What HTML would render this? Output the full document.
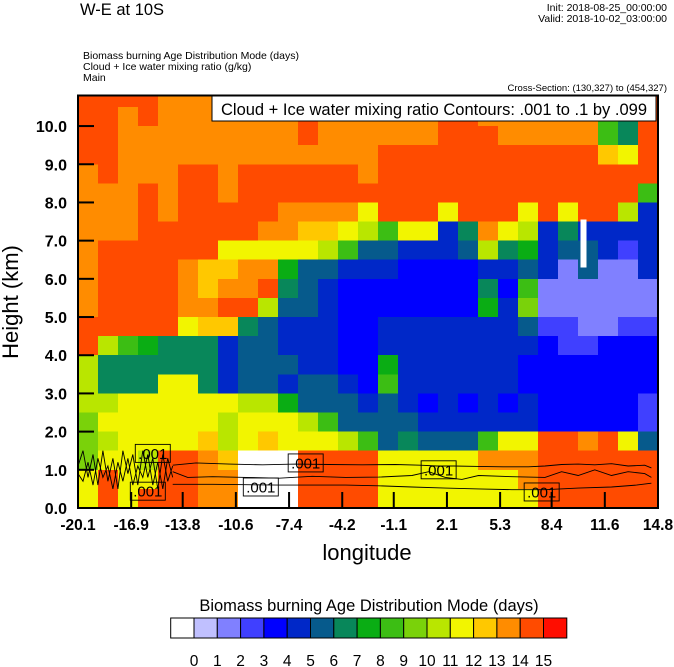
<!DOCTYPE html>
<html><head><meta charset="utf-8">
<style>
html,body{margin:0;padding:0;background:#fff;}
svg{display:block;font-family:"Liberation Sans",sans-serif;}
</style></head>
<body>
<svg id="chart" width="674" height="667" viewBox="0 0 674 667">
  <g id="hdr">
    <text x="80" y="15" font-size="16.5">W-E at 10S</text>
    <text x="667" y="11" font-size="10.5" text-anchor="end">Init: 2018-08-25_00:00:00</text>
    <text x="667" y="22" font-size="10.5" text-anchor="end">Valid: 2018-10-02_03:00:00</text>
    <text x="83" y="59" font-size="10.5">Biomass burning Age Distribution Mode    (days)</text>
    <text x="83" y="70" font-size="10.5">Cloud + Ice water mixing ratio    (g/kg)</text>
    <text x="83" y="81" font-size="10.5">Main</text>
    <text x="667" y="91" font-size="9.5" text-anchor="end">Cross-Section: (130,327) to (454,327)</text>
  </g>
  <g id="cells" shape-rendering="crispEdges"></g>
  <g id="contours" fill="none" stroke="#000" stroke-width="0.9"></g>
  <g id="clabels"></g>
  <g id="axes"></g>
  <g>
    <rect x="212" y="96" width="444" height="25" fill="#fff" stroke="#000" stroke-width="1"></rect>
    <text x="434" y="115" font-size="16.5" text-anchor="middle">Cloud + Ice water mixing ratio Contours: .001 to .1 by .099</text>
  </g>
  <text x="367" y="560" font-size="22" text-anchor="middle">longitude</text>
  <text transform="translate(18,302) rotate(-90)" font-size="22" text-anchor="middle">Height (km)</text>
  <text x="369" y="611" font-size="16.5" text-anchor="middle">Biomass burning Age Distribution Mode  (days)</text>
  <g id="cbar"></g>
</svg>
<script>
// ---- data ----
const lonMin = -20.1, lonMax = 14.8, hMin = 0, hMax = 10.8;
const xTickLabels = ["-20.1","-16.9","-13.8","-10.6","-7.4","-4.2","-1.1","2.1","5.3","8.4","11.6","14.8"];
const yTickValues = [0,1,2,3,4,5,6,7,8,9,10];
const levelLabels = ["0","1","2","3","4","5","6","7","8","9","10","11","12","13","14","15"];
const levelColors = ["#ffffff","#c0c0ff","#8080ff","#4040ff","#0000ff","#0028c8","#065a8c","#08875a","#0aad14","#3cbe14","#7ad20a","#b9e600","#f2f500","#ffc800","#ff8c00","#ff4b00","#ff0d00"];
// field rows: bin index (base-17 digit) per column; top row first; each row spans 0.5 km
const fieldRowHeights = [10.5,10,9.5,9,8.5,8,7.5,7,6.5,6,5.5,5,4.5,4,3.5,3,2.5,2,1.5,1,0.5,0];
const fieldRows = [
"ffffeeeeeeeeeeeeeeffeeeeee97f",
"ffefeeeeeeefeeeeeeffeeeeee97f",
"ffeeeeeeeeefeeeeeefffeeeee97f",
"ffeeeeeeeeeeeeefffffffffffdcf",
"efeeeffeffffffeffffffffffffff",
"eeefeffeffffffffffffffffffff9",
"eeefefffffeeeecfffcfffcfcffb5",
"eeeffffffeeddcb9cc57ecb575555",
"effffffcccccb9665556b78566535",
"effffeddee8665554444556526225",
"effffedeef7654444444749222222",
"effffeeffb665444444485a222222",
"fffffcdd765554455555556332233",
"fb987775665554455555555433444",
"b7777775666554485555554444444",
"b777cc75665665495555554444444",
"bbccccccbb8666565454545444443",
"accccccbcccb96666555555444443",
"abccccdbcdcccb9676669ccffefc6",
"accbffed000ffffccccceeeffffff",
"cfccffee000ffffccccccceffffff",
"cfcfffee000ffffccccccccffffff"
];
// small patch: [lon1, lon2, h1, h2, bin]
const patchLon1 = [10.15];
const patchLon2 = [10.5];
const patchH1 = [6.3];
const patchH2 = [7.55];
const patchBin = [0];
// contour lines (.001 g/kg)
const cUpperLon = [-14.4,-13,-11,-9,-7,-5,-3,-1,0.5,1.5,2.5,4,5.5,7,8,9,10,11,12,13,14,14.4];
const cUpperH   = [1.12,1.18,1.15,1.13,1.15,1.14,1.13,1.14,1.12,1.10,1.10,1.09,1.08,1.08,1.10,1.14,1.15,1.13,1.16,1.1,1.12,1.05];
const cMidLon = [-14.4,-13.5,-12,-10,-8,-6,-4,-2,0,1,2,3,4,6,8,9,10,11,12,13,14,14.4];
const cMidH   = [0.95,0.80,0.82,0.80,0.78,0.83,0.80,0.81,0.85,0.95,0.80,0.75,0.85,0.82,0.80,0.95,0.85,1.00,0.85,0.95,0.90,0.80];
const cLowLon = [-14.4,-12,-10,-8,-6,-4,-2,0,2,4,6,8,10,12,13.5,14.4];
const cLowH   = [0.62,0.62,0.61,0.60,0.60,0.60,0.58,0.55,0.52,0.50,0.48,0.48,0.52,0.55,0.60,0.65];
const cLeftLon = [-20.1,-19.8,-19.5,-19.2,-18.9,-18.6,-18.3,-18,-17.7,-17.4,-17.1,-16.8,-16.5,-16.2,-15.9,-15.6,-15.3,-15,-14.7,-14.4];
const cLeftH   = [1.1,1.5,0.8,1.4,0.6,1.5,0.7,1.3,0.5,1.5,0.9,1.4,0.6,1.5,0.8,1.3,0.5,1.4,0.7,1.1];
const cLeft2H  = [0.9,0.7,1.2,0.6,1.3,0.8,1.1,0.5,1.2,0.7,1.3,0.6,1.1,0.8,1.4,0.6,1.2,0.5,1.3,0.8];
const cLabelLon = [-15.6,-15.9,-6.4,-9.1,1.6,7.8];
const cLabelH   = [1.43,0.44,1.18,0.55,1.0,0.42];
const cLabelText = [".001",".001",".001",".001",".001",".001"];

// ---- scales ----
const X0 = 78, X1 = 658, Y0 = 508, Y1 = 95.5;
function xs(lon){ return X0 + (lon - lonMin) / (lonMax - lonMin) * (X1 - X0); }
function ys(h){ return Y0 - (h - hMin) / (hMax - hMin) * (Y0 - Y1); }
const NS = "http://www.w3.org/2000/svg";
function mk(tag, parent){ const e = document.createElementNS(NS, tag); parent.appendChild(e); return e; }

// ---- cells ----
const cellsG = document.getElementById("cells");
const nCols = fieldRows[0].length;
const dLon = (lonMax - lonMin) / nCols;
fieldRows.forEach((row, r) => {
  const h0 = fieldRowHeights[r];
  const h1 = Math.min(h0 + 0.5, hMax);
  for (let c = 0; c < nCols; c++) {
    const v = parseInt(row[c], 17);
    const rc = mk("rect", cellsG);
    
    
    const xa = xs(lonMin + c * dLon), xb = xs(lonMin + (c + 1) * dLon);
    rc.setAttribute("x", xa); rc.setAttribute("y", ys(h1));
    rc.setAttribute("width", xb - xa + 0.5); rc.setAttribute("height", ys(h0) - ys(h1) + 0.5);
    rc.setAttribute("fill", levelColors[v]);
  }
});
patchBin.forEach((b, i) => {
  const rc = mk("rect", cellsG);
  
  
  rc.setAttribute("x", xs(patchLon1[i])); rc.setAttribute("y", ys(patchH2[i]));
  rc.setAttribute("width", xs(patchLon2[i]) - xs(patchLon1[i])); rc.setAttribute("height", ys(patchH1[i]) - ys(patchH2[i]));
  rc.setAttribute("fill", levelColors[b]);
});

// ---- contours ----
const cg = document.getElementById("contours");
function line(lons, hs, name){
  const p = mk("polyline", cg);
  
  
  p.setAttribute("points", lons.map((l, i) => xs(l).toFixed(1) + "," + ys(hs[i]).toFixed(1)).join(" "));
}
line(cUpperLon, cUpperH, 'contour-upper');
line(cMidLon, cMidH, 'contour-middle');
line(cLowLon, cLowH, 'contour-lower');
line(cLeftLon, cLeftH, 'contour-left-squiggle');
line(cLeftLon, cLeft2H, 'contour-left-squiggle-2');
const clg = document.getElementById("clabels");
cLabelText.forEach((t, i) => {
  const cx = xs(cLabelLon[i]), cy = ys(cLabelH[i]);
  const r = mk("rect", clg);
  
  
  r.setAttribute("x", cx - 17.5); r.setAttribute("y", cy - 9); r.setAttribute("width", 35); r.setAttribute("height", 18);
  r.setAttribute("fill", "none"); r.setAttribute("stroke", "#000"); r.setAttribute("stroke-width", "0.9");
  const tx = mk("text", clg);
  
  
  tx.setAttribute("x", cx); tx.setAttribute("y", cy + 5.5); tx.setAttribute("font-size", "15");
  tx.setAttribute("text-anchor", "middle"); tx.textContent = t;
});

// ---- axes ----
const ag = document.getElementById("axes");
const frame = mk("rect", ag);


frame.setAttribute("x", X0); frame.setAttribute("y", Y1); frame.setAttribute("width", X1 - X0); frame.setAttribute("height", Y0 - Y1);
frame.setAttribute("fill", "none"); frame.setAttribute("stroke", "#000"); frame.setAttribute("stroke-width", "2");
yTickValues.forEach(v => {
  const y = ys(v);
  const t = mk("line", ag);
  
  
  t.setAttribute("x1", X0); t.setAttribute("x2", X0 + 16); t.setAttribute("y1", y); t.setAttribute("y2", y);
  t.setAttribute("stroke", "#000"); t.setAttribute("stroke-width", "2");
  const l = mk("text", ag);
  
  
  l.setAttribute("x", 67); l.setAttribute("y", y + 6); l.setAttribute("font-size", "16"); l.setAttribute("font-weight", "bold");
  l.setAttribute("text-anchor", "end"); l.textContent = v.toFixed(1);
});
xTickLabels.forEach((s, i) => {
  const lon = parseFloat(s);
  const x = xs(lon);
  const t = mk("line", ag);
  
  
  t.setAttribute("x1", x); t.setAttribute("x2", x); t.setAttribute("y1", Y0); t.setAttribute("y2", Y0 - 16);
  t.setAttribute("stroke", "#000"); t.setAttribute("stroke-width", "2");
  const l = mk("text", ag);
  
  
  l.setAttribute("x", x); l.setAttribute("y", 530); l.setAttribute("font-size", "15.5"); l.setAttribute("font-weight", "bold");
  l.setAttribute("text-anchor", "middle"); l.textContent = s;
});

// ---- colorbar ----
const cb = document.getElementById("cbar");
const cbX = 170.7, cbW = 23.3, cbY = 618, cbH = 20;
levelColors.forEach((col, i) => {
  const r = mk("rect", cb);
  
  
  r.setAttribute("x", cbX + i * cbW); r.setAttribute("y", cbY); r.setAttribute("width", cbW); r.setAttribute("height", cbH);
  r.setAttribute("fill", col); r.setAttribute("stroke", "#000"); r.setAttribute("stroke-width", "1");
});
levelLabels.forEach((s, i) => {
  const l = mk("text", cb);
  
  
  l.setAttribute("x", cbX + (i + 1) * cbW); l.setAttribute("y", 666); l.setAttribute("font-size", "15.5");
  l.setAttribute("text-anchor", "middle"); l.textContent = s;
});
</script>
</body></html>
